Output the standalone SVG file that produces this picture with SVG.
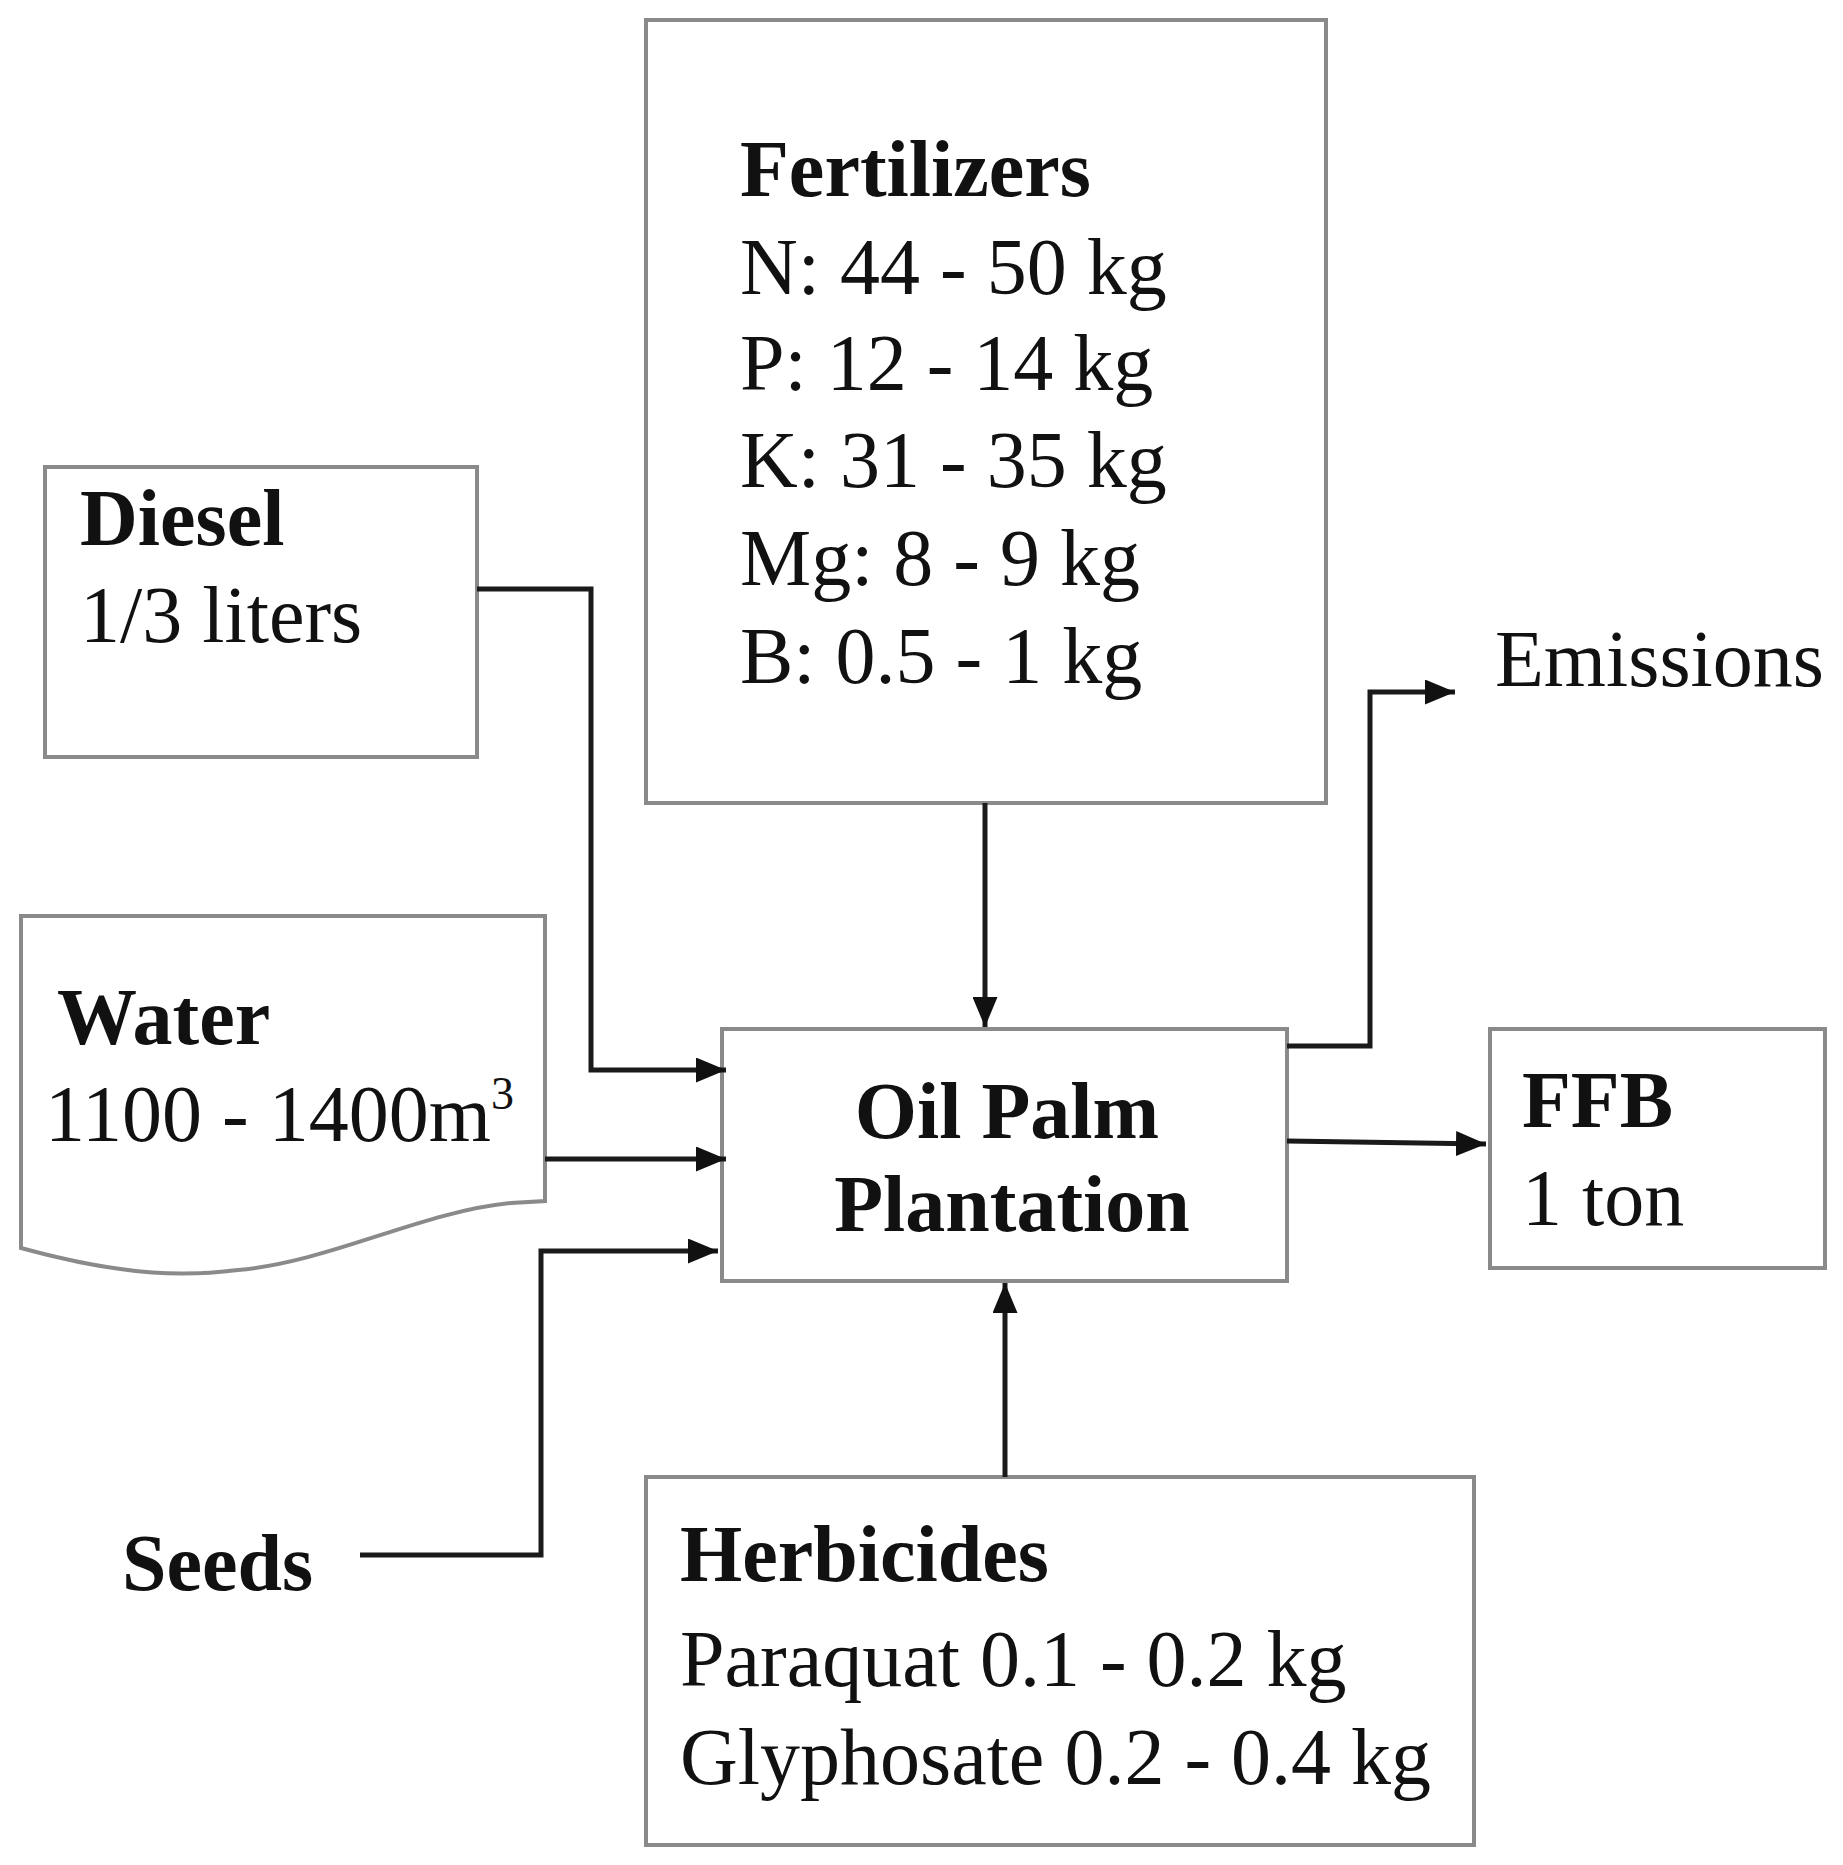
<svg xmlns="http://www.w3.org/2000/svg" width="1843" height="1865" viewBox="0 0 1843 1865">
<style>
.box{fill:#fff;stroke:#8a8a8a;stroke-width:4}
.t{font-family:"Liberation Serif","Times New Roman",serif;font-size:80px;fill:#111}
.b{font-weight:bold}
.c{fill:none;stroke:#1a1a1a;stroke-width:5}
</style>
<defs>
<marker id="ah" markerWidth="6" markerHeight="5" refX="6" refY="2.5" orient="auto" markerUnits="strokeWidth">
<path d="M0,0 L6,2.5 L0,5 Z" fill="#111"/>
</marker>
</defs>
<rect width="1843" height="1865" fill="#fff"/>
<g id="fertilizers">
<rect class="box" x="646" y="20" width="680" height="783"/>
<text class="t b" x="740" y="196">Fertilizers</text>
<text class="t" x="740" y="294">N: 44 - 50 kg</text>
<text class="t" x="740" y="390">P: 12 - 14 kg</text>
<text class="t" x="740" y="487">K: 31 - 35 kg</text>
<text class="t" x="740" y="585">Mg: 8 - 9 kg</text>
<text class="t" x="740" y="683">B: 0.5 - 1 kg</text>
</g>
<g id="diesel">
<rect class="box" x="45" y="467" width="432" height="290"/>
<text class="t b" x="80" y="545">Diesel</text>
<text class="t" x="80" y="642">1/3 liters</text>
</g>
<g id="water">
<path class="box" d="M21,916 H545 V1201 L511,1203 C420,1212 330,1262 238,1270 C190,1276 130,1278 21,1248 Z"/>
<text class="t b" x="57" y="1044">Water</text>
<text class="t" x="45" y="1141">1100 - 1400m<tspan font-size="46" dy="-32">3</tspan></text>
</g>
<g id="plantation">
<rect class="box" x="722" y="1029" width="565" height="252"/>
<text class="t b" x="1007" y="1138" text-anchor="middle">Oil Palm</text>
<text class="t b" x="1012" y="1231" text-anchor="middle">Plantation</text>
</g>
<g id="ffb">
<rect class="box" x="1490" y="1029" width="335" height="239"/>
<text class="t b" x="1522" y="1127">FFB</text>
<text class="t" x="1522" y="1225">1 ton</text>
</g>
<g id="emissions">
<text class="t" x="1495" y="686">Emissions</text>
</g>
<g id="seeds">
<text class="t b" x="122" y="1590">Seeds</text>
</g>
<g id="herbicides">
<rect class="box" x="646" y="1477" width="828" height="368"/>
<text class="t b" x="680" y="1581">Herbicides</text>
<text class="t" x="680" y="1686">Paraquat 0.1 - 0.2 kg</text>
<text class="t" x="680" y="1784">Glyphosate 0.2 - 0.4 kg</text>
</g>
<g id="connectors">
<path class="c" d="M477,589 H591 V1070 H726" marker-end="url(#ah)"/>
<path class="c" d="M545,1159 H726" marker-end="url(#ah)"/>
<path class="c" d="M360,1555 H541 V1251 H718" marker-end="url(#ah)"/>
<path class="c" d="M985,803 V1027" marker-end="url(#ah)"/>
<path class="c" d="M1005,1477 V1283" marker-end="url(#ah)"/>
<path class="c" d="M1287,1046 H1370 V692 H1455" marker-end="url(#ah)"/>
<path class="c" d="M1287,1141 L1486,1144" marker-end="url(#ah)"/>
</g>
</svg>
